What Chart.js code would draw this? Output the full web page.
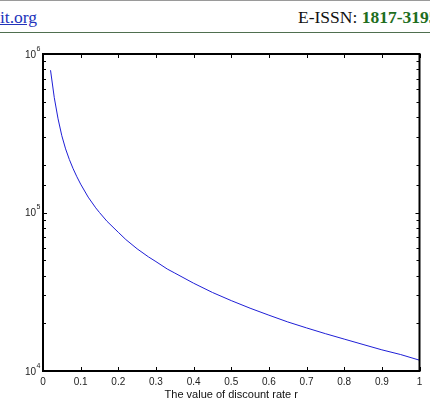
<!DOCTYPE html>
<html>
<head>
<meta charset="utf-8">
<script src="https://cdn.jsdelivr.net/npm/chart.js@4"></script>
<style>
  html, body { margin: 0; padding: 0; background: #fff; }
  body { width: 430px; height: 402px; position: relative; overflow: hidden; }
  #hdr { position: absolute; left: 0; top: 0; width: 430px; height: 31px;
         border-top: 1px solid #9a9a9a; border-bottom: 1px solid #4f6f4f;
         font-family: "Liberation Serif", "Times New Roman", serif; font-size: 17.5px; }
  #site { position: absolute; left: 0; top: 6px; color: #2233bb; text-decoration: underline; }
  #issn { position: absolute; left: 298px; top: 6px; color: #111; white-space: nowrap; }
  #issn b { color: #1e6e1e; }
  #c { position: absolute; left: 0; top: 0; }
</style>
</head>
<body>
<div id="hdr"><span id="site">it.org</span><span id="issn">E-ISSN: <b>1817-3195</b></span></div>
<canvas id="c" width="430" height="402"></canvas>
<script>
// discount rate r and the value
const rates = [0.02, 0.03, 0.04, 0.05, 0.06, 0.07, 0.08, 0.09, 0.10, 0.12, 0.14, 0.15, 0.17,
               0.20, 0.22, 0.25, 0.28, 0.30, 0.33, 0.35, 0.40, 0.45, 0.50, 0.55, 0.60,
               0.65, 0.70, 0.75, 0.80, 0.85, 0.90, 0.95, 1.00];
const values = [790000, 530000, 390000, 305000, 252000, 216000, 189000, 168000, 151000, 125000, 107000, 100000, 88000,
                75000, 67500, 59000, 52500, 49000, 44000, 41500, 35800, 31300, 27800, 24900, 22500,
                20400, 18700, 17200, 15900, 14700, 13600, 12700, 11700];
const xTickLabels = ['0', '0.1', '0.2', '0.3', '0.4', '0.5', '0.6', '0.7', '0.8', '0.9', '1'];
const yTickBase = '10';
const yTickExps = ['4', '5', '6'];

const isDecade = v => Math.abs(Math.log10(v) - Math.round(Math.log10(v))) < 1e-9;

// inward tick marks, the axes box and the 10^n labels, like the matlab figure
const boxPlugin = {
    id: 'box',
    afterDraw(chart) {
        const { ctx, chartArea: a, scales } = chart;
        ctx.save();
        ctx.strokeStyle = '#000';
        ctx.lineWidth = 1;
        ctx.beginPath();
        scales.x.ticks.forEach(t => {
            const px = Math.round(scales.x.getPixelForValue(t.value)) + 0.5;
            ctx.moveTo(px, a.bottom); ctx.lineTo(px, a.bottom - 4);
            ctx.moveTo(px, a.top); ctx.lineTo(px, a.top + 4);
        });
        scales.y.ticks.forEach(t => {
            const py = Math.round(scales.y.getPixelForValue(t.value)) + 0.5;
            const len = isDecade(t.value) ? 4 : 3;
            ctx.moveTo(a.left, py); ctx.lineTo(a.left + len, py);
            ctx.moveTo(a.right, py); ctx.lineTo(a.right - len, py);
        });
        ctx.stroke();
        ctx.lineWidth = 2;
        ctx.strokeRect(a.left, a.top, a.right - a.left, a.bottom - a.top);

        ctx.fillStyle = '#222';
        ctx.textBaseline = 'middle';
        scales.y.ticks.forEach(t => {
            if (!isDecade(t.value)) return;
            const py = scales.y.getPixelForValue(t.value);
            const exp = yTickExps[Math.round(Math.log10(t.value)) - 4];
            ctx.font = '10px "Liberation Sans"';
            ctx.textAlign = 'right';
            ctx.fillText(yTickBase, 36, py + 1);
            ctx.font = '7px "Liberation Sans"';
            ctx.textAlign = 'left';
            ctx.fillText(exp, 36.5, py - 5);
        });
        ctx.restore();
    }
};

new Chart(document.getElementById('c'), {
    type: 'line',
    data: {
        datasets: [{
            data: rates.map((r, i) => ({ x: r, y: values[i] })),
            borderColor: '#1f1fd6',
            borderWidth: 1,
            pointRadius: 0,
            tension: 0,
            fill: false
        }]
    },
    options: {
        responsive: false,
        animation: false,
        layout: { padding: { top: 54, right: 10.5, left: 0, bottom: 0 } },
        plugins: { legend: { display: false }, tooltip: { enabled: false } },
        scales: {
            x: {
                type: 'linear',
                min: 0, max: 1,
                grid: { display: false, drawTicks: false },
                border: { display: false },
                ticks: {
                    stepSize: 0.1,
                    padding: 5,
                    color: '#222',
                    font: { family: 'Liberation Sans', size: 10 },
                    maxRotation: 0,
                    callback: (v, i) => xTickLabels[i]
                },
                title: {
                    display: true,
                    text: 'The value of discount rate r',
                    color: '#111',
                    padding: { top: 0, bottom: 0 },
                    font: { family: 'Liberation Sans', size: 11 }
                },
                afterFit: s => { s.height = 31; }
            },
            y: {
                type: 'logarithmic',
                min: 10000, max: 1000000,
                grid: { display: false, drawTicks: false },
                border: { display: false },
                ticks: {
                    autoSkip: false,
                    color: 'rgba(0,0,0,0)',
                    font: { family: 'Liberation Sans', size: 10 },
                    callback: () => ''
                },
                afterFit: s => { s.width = 43; }
            }
        }
    },
    plugins: [boxPlugin]
});
</script>
</body>
</html>
